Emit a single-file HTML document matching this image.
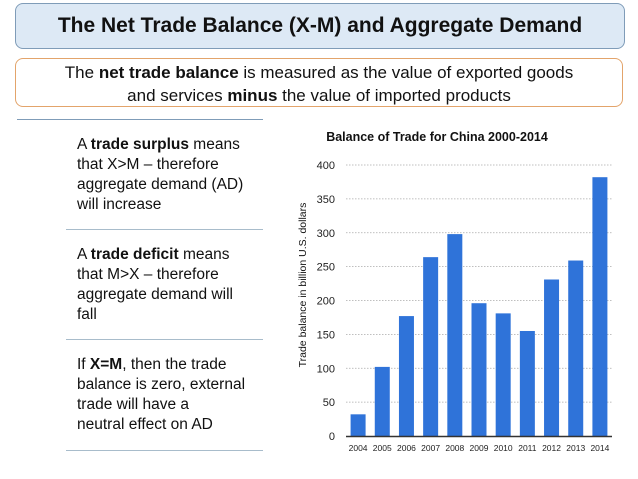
<!DOCTYPE html>
<html><head><meta charset="utf-8"><style>
body{margin:0;width:638px;height:479px;background:#fff;font-family:"Liberation Sans",sans-serif;position:relative;overflow:hidden}
.abs{position:absolute}
#title{left:15px;top:3px;width:608px;height:44px;background:#dde9f5;border:1px solid #7f9cb8;border-radius:8px;text-align:center;font-size:21px;font-weight:bold;line-height:44px;color:#111}
#def{left:15px;top:58px;width:608px;height:49px;border:1px solid #e3a46b;border-radius:8px;text-align:center;font-size:17px;line-height:23px;color:#111;padding-top:2px;box-sizing:border-box}
.hl{height:1px;background:#a8bccb}
.pt{left:77px;width:200px;font-size:15.5px;line-height:20px;color:#111;white-space:nowrap}
</style></head><body>
<div id="title" class="abs">The Net Trade Balance (X-M) and Aggregate Demand</div>
<div id="def" class="abs">The <b>net trade balance</b> is measured as the value of exported goods<br>and services <b>minus</b> the value of imported products</div>
<div class="abs hl" style="left:17px;top:119px;width:246px;background:#7f9cb8"></div>
<div class="abs pt" style="top:135px">A <b>trade surplus</b> means<br>that X&gt;M – therefore<br>aggregate demand (AD)<br>will increase</div>
<div class="abs hl" style="left:66px;top:229px;width:197px"></div>
<div class="abs pt" style="top:245px">A <b>trade deficit</b> means<br>that M&gt;X – therefore<br>aggregate demand will<br>fall</div>
<div class="abs hl" style="left:66px;top:339px;width:197px"></div>
<div class="abs pt" style="top:355px">If <b>X=M</b>, then the trade<br>balance is zero, external<br>trade will have a<br>neutral effect on AD</div>
<div class="abs hl" style="left:66px;top:450px;width:197px"></div>
<svg class="abs" style="left:0;top:0" width="638" height="479" id="chart"></svg>
<script>
const years=["2004","2005","2006","2007","2008","2009","2010","2011","2012","2013","2014"];
const balance=[32,102,177,264,298,196,181,155,231,259,382];
const yTicks=[0,50,100,150,200,250,300,350,400];
const svg=document.getElementById('chart');const NS='http://www.w3.org/2000/svg';
const x0=346,x1=612,y0=436,yTop=165,yMax=400;
const ys=v=>y0-(v/yMax)*(y0-yTop);
const step=(x1-x0)/years.length;
const xs=i=>x0+step*(i+0.5);
function mk(t,a){const e=document.createElementNS(NS,t);for(const k in a)e.setAttribute(k,a[k]);svg.appendChild(e);return e;}
let t=mk('text',{x:437,y:141,'text-anchor':'middle','font-size':'12.5','font-weight':'bold',fill:'#111'});t.textContent='Balance of Trade for China 2000-2014';


t=mk('text',{transform:'translate(306,285) rotate(-90)','text-anchor':'middle','font-size':'10.5',fill:'#111'});t.textContent='Trade balance in billion U.S. dollars';


yTicks.forEach(v=>{
 if(v>0){const g=mk('line',{x1:x0,x2:x1,y1:ys(v),y2:ys(v),stroke:'#aaa','stroke-dasharray':'1.5,1.5','stroke-width':'0.8'});
 
 }
 const l=mk('text',{x:335,y:ys(v)+4,'text-anchor':'end','font-size':'11',fill:'#222'});l.textContent=v;
 
 
});
balance.forEach((v,i)=>{
 const r=mk('rect',{x:xs(i)-7.5,y:ys(v),width:15,height:y0-ys(v),fill:'#2f73d9'});
 
 
 const l=mk('text',{x:xs(i),y:451,'text-anchor':'middle','font-size':'8.5',fill:'#222'});l.textContent=years[i];
 
 
});
const ax=mk('line',{x1:x0,x2:x1,y1:y0+0.5,y2:y0+0.5,stroke:'#333','stroke-width':'1.5'});


</script>
</body></html>
